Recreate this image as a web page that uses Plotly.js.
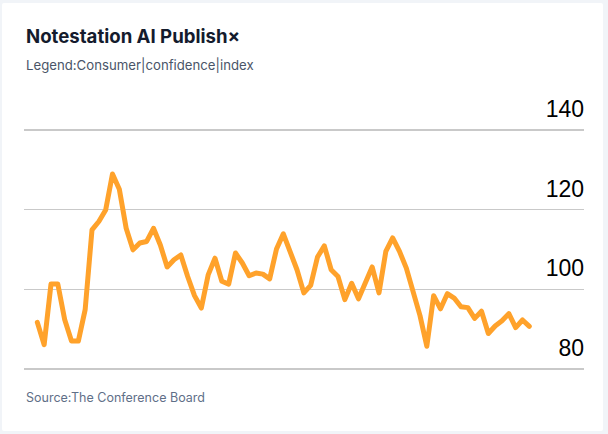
<!DOCTYPE html>
<html>
<head>
<meta charset="utf-8">
<script src="https://cdn.plot.ly/plotly-3.0.1.min.js"></script>
<style>
  html, body { margin: 0; padding: 0; background: #f1f4f8; width: 608px; height: 434px; overflow: hidden; }
  #card { position: absolute; left: 2px; top: 3px; width: 601px; height: 428px; background: #ffffff; border-radius: 2px; }
  #chart { position: absolute; left: 0; top: 0; width: 608px; height: 434px; }
  .scatterlayer path.js-line { stroke-linejoin: round; stroke-linecap: round; }
</style>
</head>
<body>
<div id="card"></div>
<div id="chart"></div>
<script>
// Data
const seriesName = "Consumer confidence index";
const confidenceValues = [
  91.7, 86.1, 101.3, 101.3, 92.4, 87.0, 87.0, 94.9, 114.9, 117.0,
  119.9, 128.9, 125.1, 115.3, 109.9, 111.6, 112.0, 115.3, 111.1, 105.6,
  107.4, 108.6, 103.2, 98.4, 95.3, 103.6, 107.8, 102.0, 101.3, 109.1,
  106.6, 103.4, 104.1, 103.8, 102.6, 110.1, 113.9, 109.3, 104.9, 99.1,
  101.0, 108.1, 110.9, 104.9, 103.2, 97.4, 101.5, 97.6, 101.7, 105.6,
  99.1, 109.5, 112.9, 109.5, 105.3, 99.5, 93.4, 85.7, 98.4, 95.1,
  98.9, 97.8, 95.6, 95.4, 92.7, 94.5, 88.9, 90.8, 92.1, 93.9,
  90.4, 92.3, 90.7
];
const periods = confidenceValues.map((_, i) => i);
const yTickValues = [80, 100, 120, 140];
const yTickLabels = ["80", "100", "120", "140"];

const titleText = "Notestation AI Publish×";
const subtitleText = "Legend:Consumer|confidence|index";
const sourceText = "Source:The Conference Board";

// Layout geometry
const W = 608, H = 434;
const mL = 24, mR = 24, mT = 82.1, mB = 62.5;
const plotW = W - mL - mR, plotH = H - mT - mB;
const px2x = px => (px - mL) / plotW;
const py2y = py => (H - mB - py) / plotH;

const trace = {
  x: periods,
  y: confidenceValues,
  type: "scatter",
  mode: "lines",
  name: seriesName,
  line: { color: "#ffa22b", width: 5 },
  hoverinfo: "y"
};

const layout = {
  width: W, height: H,
  margin: { l: mL, r: mR, t: mT, b: mB, pad: 0 },
  paper_bgcolor: "rgba(0,0,0,0)",
  plot_bgcolor: "rgba(0,0,0,0)",
  showlegend: false,
  xaxis: {
    range: [-1.95, 80],
    showgrid: false, zeroline: false, showticklabels: false, showline: false, ticks: ""
  },
  yaxis: {
    range: [79.5, 152],
    side: "right",
    tickmode: "array",
    tickvals: yTickValues,
    ticktext: yTickLabels,
    ticklabelposition: "inside top",
    ticklabelshift: -5,
    ticklabelstandoff: -3,
    ticks: "",
    showline: false,
    zeroline: false,
    showgrid: true,
    gridcolor: "#c9c9c9",
    gridwidth: 1.5,
    tickfont: { family: "Liberation Sans, Arial, sans-serif", size: 23, color: "#000000" }
  },
  annotations: [
    { text: "<b>" + titleText + "</b>", xref: "paper", yref: "paper", x: px2x(24), y: py2y(36.5),
      xanchor: "left", yanchor: "middle", showarrow: false,
      font: { family: "Inter, Noto Sans, sans-serif", size: 18.6, color: "#141b2d" } },
    { text: subtitleText, xref: "paper", yref: "paper", x: px2x(24), y: py2y(65.5),
      xanchor: "left", yanchor: "middle", showarrow: false,
      font: { family: "Inter, Noto Sans, sans-serif", size: 13.2, color: "#4a5568" } },
    { text: sourceText, xref: "paper", yref: "paper", x: px2x(24), y: py2y(398),
      xanchor: "left", yanchor: "middle", showarrow: false,
      font: { family: "Inter, Noto Sans, sans-serif", size: 12.5, color: "#5f6f88" } }
  ]
};

Plotly.newPlot("chart", [trace], layout, { displayModeBar: false, staticPlot: true });
</script>
</body>
</html>
